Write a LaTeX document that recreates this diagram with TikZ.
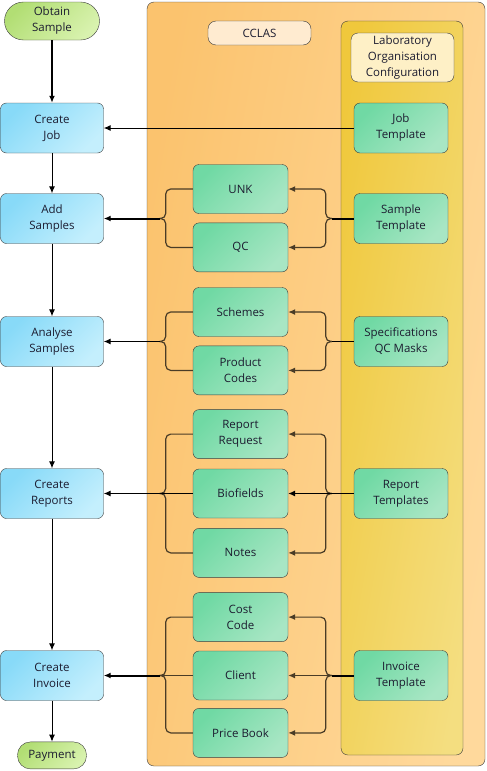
\documentclass[tikz,border=0pt]{standalone}
\usepackage{fontspec}
\setmainfont{Open Sans}
\usetikzlibrary{arrows.meta,positioning,calc}
\definecolor{boxline}{HTML}{3C3C3C}
\definecolor{braceline}{HTML}{4A3C26}
\definecolor{txt}{HTML}{1C1C30}
\definecolor{blueA}{HTML}{88DAF8}
\definecolor{blueB}{HTML}{C4EFFD}
\definecolor{greenA}{HTML}{70D9A4}
\definecolor{greenB}{HTML}{A8E6C4}
\definecolor{limeA}{HTML}{B2DE74}
\definecolor{limeB}{HTML}{D8F2AE}
\definecolor{orangeA}{HTML}{FBC36E}
\definecolor{orangeB}{HTML}{FFD99C}
\definecolor{yellowA}{HTML}{F0C83C}
\definecolor{yellowB}{HTML}{F4DE80}
\definecolor{labelfill}{HTML}{FFEBD0}
\definecolor{cfgfill}{HTML}{FEF0C6}

\begin{document}
\begin{tikzpicture}[x=1pt,y=-1pt,>={Latex[length=7pt,width=6pt]},
    font=\fontsize{11.5}{16}\selectfont,text=txt]
  \tikzstyle{flow}=[draw=boxline,rounded corners=6pt,align=center,inner sep=0pt,
    minimum width=103pt,minimum height=50pt,left color=blueA,right color=blueB,shading angle=45]
  \tikzstyle{terminal}=[flow,left color=limeA,right color=limeB,shading angle=45]
  \tikzstyle{item}=[draw=boxline,rounded corners=6pt,align=center,inner sep=0pt,
    minimum width=95pt,minimum height=49pt,left color=greenA,right color=greenB,shading angle=45]
  \tikzstyle{tpl}=[item,minimum width=94pt,minimum height=50pt]
  \tikzstyle{brace}=[draw=braceline,line width=1.2pt,rounded corners=5pt]
  \tikzstyle{light}=[line width=1pt]
  \tikzstyle{heavy}=[line width=2pt]
  \useasboundingbox (0,0) rectangle (487,771);

  % containers
  \path[draw=boxline,rounded corners=7pt,left color=orangeA,right color=orangeB,shading angle=80]
    (147,2) rectangle (485,766);
  \path[draw=boxline,rounded corners=7pt,left color=yellowA,right color=yellowB,shading angle=80]
    (341,21) rectangle (463,755);
  \node[draw=boxline,rounded corners=8pt,fill=labelfill,minimum width=103pt,
    minimum height=24pt,inner sep=0pt] (cclas) at (259.5,33) {CCLAS};
  \node[draw=boxline,rounded corners=7pt,fill=cfgfill,align=center,
    minimum width=103pt,minimum height=49pt,inner sep=0pt] (labcfg) at (402.5,57.5)
    {Laboratory\\Organisation\\Configuration};

  % main flow
  \node[terminal,minimum width=95pt,minimum height=38pt,rounded corners=19pt] (obtain) at (52,21) {Obtain\\Sample};
  \node[flow] (job) at (52,128) {Create\\Job};
  \node[flow] (add) at (52,218.5) {Add\\Samples};
  \node[flow] (analyse) at (52,341.5) {Analyse\\Samples};
  \node[flow] (reports) at (52,493.5) {Create\\Reports};
  \node[flow] (invoice) at (52,675.5) {Create\\Invoice};
  \node[terminal,below=41pt of invoice,minimum width=69pt,minimum height=27pt,rounded corners=13pt] (payment) {Payment};

  % CCLAS items
  \node[item] (unk) at (240.5,189) {UNK};
  \node[item,below=9pt of unk] (qc) {QC};
  \node[item] (schemes) at (240.5,312) {Schemes};
  \node[item,below=9pt of schemes] (codes) {Product\\Codes};
  \node[item] (bio) at (240.5,493.5) {Biofields};
  \node[item,above=10pt of bio] (request) {Report\\Request};
  \node[item,below=10pt of bio] (notes) {Notes};
  \node[item] (client) at (240.5,675.5) {Client};
  \node[item,above=9pt of client] (cost) {Cost\\Code};
  \node[item,below=8pt of client] (price) {Price Book};

  % templates
  \node[tpl] (jobtpl) at (401,128) {Job\\Template};
  \node[tpl] (smptpl) at (add -| jobtpl) {Sample\\Template};
  \node[tpl] (spectpl) at (analyse -| jobtpl) {Specifications\\QC Masks};
  \node[tpl] (reptpl) at (reports -| jobtpl) {Report\\Templates};
  \node[tpl] (invtpl) at (invoice -| jobtpl) {Invoice\\Template};

  % brace tips
  \coordinate (ladd) at ([xshift=56pt]add.east);
  \coordinate (radd) at ([xshift=-22pt]smptpl.west);
  \coordinate (lana) at ([xshift=56pt]analyse.east);
  \coordinate (rana) at ([xshift=-22pt]spectpl.west);
  \coordinate (lrep) at ([xshift=56pt]reports.east);
  \coordinate (rrep) at ([xshift=-22pt]reptpl.west);
  \coordinate (linv) at ([xshift=56pt]invoice.east);
  \coordinate (rinv) at ([xshift=-22pt]invtpl.west);

  % flow arrows
  \draw[->,heavy] (obtain) -- (job);
  \draw[->,light] (job) -- (add);
  \draw[->,light] (add) -- (analyse);
  \draw[->,light] (analyse) -- (reports);
  \draw[->,light] (reports) -- (invoice);
  \draw[->,light] (invoice) -- (payment);
  \draw[->,light] (jobtpl.west) -- (job.east);

  % samples
  \draw[brace] (unk.west) -| ([xshift=6pt]ladd) -- (ladd);
  \draw[brace] (qc.west) -| ([xshift=6pt]ladd) -- (ladd);
  \draw[->,heavy] (ladd) -- (add.east);
  \draw[heavy] (smptpl.west) -- (radd);
  \draw[brace,->] (radd) -- ([xshift=-6pt]radd) |- (unk.east);
  \draw[brace,->] (radd) -- ([xshift=-6pt]radd) |- (qc.east);

  % analysis
  \draw[brace] (schemes.west) -| ([xshift=6pt]lana) -- (lana);
  \draw[brace] (codes.west) -| ([xshift=6pt]lana) -- (lana);
  \draw[->,light] (lana) -- (analyse.east);
  \draw[light] (spectpl.west) -- (rana);
  \draw[brace,->] (rana) -- ([xshift=-6pt]rana) |- (schemes.east);
  \draw[brace,->] (rana) -- ([xshift=-6pt]rana) |- (codes.east);

  % reports
  \draw[brace] (request.west) -| ([xshift=6pt]lrep) -- (lrep);
  \draw[brace] (notes.west) -| ([xshift=6pt]lrep) -- (lrep);
  \draw[light] (bio.west) -- (lrep);
  \draw[->,light] (lrep) -- (reports.east);
  \draw[light] (reptpl.west) -- (rrep);
  \draw[brace,->] (rrep) -- ([xshift=-6pt]rrep) |- (request.east);
  \draw[brace,->] (rrep) -- ([xshift=-6pt]rrep) |- (notes.east);
  \draw[->,light] (rrep) -- (bio.east);

  % invoice
  \draw[brace] (cost.west) -| ([xshift=6pt]linv) -- (linv);
  \draw[brace] (price.west) -| ([xshift=6pt]linv) -- (linv);
  \draw[brace] (client.west) -- (linv);
  \draw[->,heavy] (linv) -- (invoice.east);
  \draw[heavy] (invtpl.west) -- (rinv);
  \draw[brace,->] (rinv) -- ([xshift=-6pt]rinv) |- (cost.east);
  \draw[brace,->] (rinv) -- ([xshift=-6pt]rinv) |- (price.east);
  \draw[brace,->] (rinv) -- (client.east);
\end{tikzpicture}
\end{document}
